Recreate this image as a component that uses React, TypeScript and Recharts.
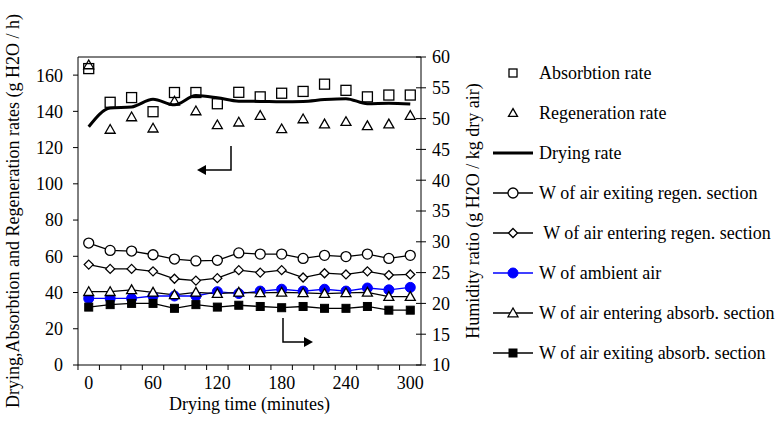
import React from 'react';
import { ComposedChart, Line, XAxis, YAxis, ReferenceLine, Legend, Label } from 'recharts';

// drying time (min)
const minutes = [0, 20, 40, 60, 80, 100, 120, 140, 160, 180, 200, 220, 240, 260, 280, 300];

// left axis, g H2O / h
const absorptionRate = [163.6, 145, 147.6, 139.8, 150.4, 150.4, 144.2, 150.5, 148, 150, 151, 155, 151.6, 148, 149, 149];
const regenerationRate = [165.6, 130, 136.9, 130.7, 145.6, 140.2, 132.5, 134, 137.7, 130.3, 135.8, 133, 134.3, 132, 133, 137.7];
const dryingRate = [131.5, 141.8, 142.4, 146.7, 143.6, 148.7, 147.5, 145.6, 145.5, 145.3, 145.5, 146.5, 147, 144.2, 144.5, 144];

// right axis, g H2O / kg dry air
const wExitRegen = [29.8, 28.6, 28.5, 27.9, 27.2, 26.9, 27.0, 28.2, 28.0, 28.0, 27.3, 27.8, 27.6, 28.0, 27.3, 27.8];
const wEnterRegen = [26.3, 25.6, 25.6, 25.2, 24.0, 23.7, 24.1, 25.4, 25.0, 25.4, 24.2, 24.9, 24.7, 25.2, 24.6, 24.7];
const wAmbient = [20.8, 20.8, 20.8, 21.2, 21.2, 21.2, 21.9, 21.6, 22.0, 22.3, 22.0, 22.3, 22.0, 22.5, 22.2, 22.6];
const wEnterAbsorb = [21.9, 21.9, 22.2, 21.8, 21.4, 21.8, 21.6, 21.8, 21.7, 21.8, 21.7, 21.6, 21.7, 21.8, 21.1, 21.1];
const wExitAbsorb = [19.4, 19.8, 20.0, 20.0, 19.2, 19.8, 19.4, 19.7, 19.5, 19.3, 19.5, 19.2, 19.2, 19.5, 18.9, 18.9];

const leftTicks = [0, 20, 40, 60, 80, 100, 120, 140, 160];
const rightTicks = [10, 15, 20, 25, 30, 35, 40, 45, 50, 55, 60];
const xLabelEvery = 60;

const data = minutes.map((t, i) => ({
  t,
  absorb: absorptionRate[i],
  regen: regenerationRate[i],
  drying: dryingRate[i],
  exitRegen: wExitRegen[i],
  enterRegen: wEnterRegen[i],
  ambient: wAmbient[i],
  enterAbsorb: wEnterAbsorb[i],
  exitAbsorb: wExitAbsorb[i],
}));

const FONT = '"Liberation Serif", "DejaVu Serif", serif';
const FS = 18;
const BLUE = '#0000ff';

// half a category step in px (plot is 343px wide for 320 min)
const HALF = 10.73;
const TS = 5;
const TM = 6;

type Mark = 'square' | 'triangle' | 'diamond' | 'circle' | 'filledSquare' | 'blueDot' | 'none';

function Marker({ cx, cy, mark, size = 9, fill }: { cx: number; cy: number; mark: Mark; size?: number; fill?: string }) {
  const h = size / 2;
  if (mark === 'square') return <rect x={cx - h} y={cy - h} width={size} height={size} fill={fill ?? 'none'} stroke="#000" strokeWidth={1.3} />;
  if (mark === 'filledSquare') return <rect x={cx - h} y={cy - h} width={size} height={size} fill="#000" stroke="#000" />;
  if (mark === 'triangle')
    return (
      <polygon
        points={`${cx},${cy - size * 0.55} ${cx - h - 0.5},${cy + size * 0.42} ${cx + h + 0.5},${cy + size * 0.42}`}
        fill={fill ?? 'none'}
        stroke="#000"
        strokeWidth={1.3}
      />
    );
  if (mark === 'diamond')
    return <polygon points={`${cx},${cy - h - 0.5} ${cx + h + 0.5},${cy} ${cx},${cy + h + 0.5} ${cx - h - 0.5},${cy}`} fill="#fff" stroke="#000" strokeWidth={1.3} />;
  if (mark === 'circle') return <circle cx={cx} cy={cy} r={h + 0.5} fill="#fff" stroke="#000" strokeWidth={1.3} />;
  if (mark === 'blueDot') return <circle cx={cx} cy={cy} r={h + 0.5} fill={BLUE} stroke={BLUE} />;
  return null;
}

const dotOf = (mark: Mark, size: number, fill?: string) => (p: any) => (
  <Marker key={`${mark}-${p.index}`} cx={p.cx} cy={p.cy} mark={mark} size={size} fill={fill} />
);

const legendItems: { name: string; mark: Mark; line: string | null; width?: number; size: number }[] = [
  { name: 'Absorbtion rate', mark: 'square', line: null, size: 8 },
  { name: 'Regeneration rate', mark: 'triangle', line: null, size: 8 },
  { name: 'Drying rate', mark: 'none', line: '#000', width: 3, size: 0 },
  { name: 'W of air exiting regen. section', mark: 'circle', line: '#000', size: 9 },
  { name: ' W of air entering regen. section', mark: 'diamond', line: '#000', size: 8 },
  { name: 'W of ambient air', mark: 'blueDot', line: BLUE, size: 9 },
  { name: 'W of air entering absorb. section', mark: 'triangle', line: '#000', size: 9, },
  { name: 'W of air exiting absorb. section', mark: 'filledSquare', line: '#000', size: 8 },
];

function renderLegend() {
  return (
    <div style={{ fontFamily: FONT, fontSize: FS, color: '#000' }}>
      {legendItems.map((it) => (
        <div key={it.name} style={{ height: 40, display: 'flex', alignItems: 'center' }}>
          <svg width={40} height={20} style={{ flex: 'none' }}>
            {it.line && <line x1={0} x2={40} y1={10} y2={10} stroke={it.line} strokeWidth={it.width ?? 1.3} />}
            <Marker cx={20} cy={10} mark={it.mark} size={it.size} fill={it.mark === 'triangle' && it.line ? '#fff' : undefined} />
          </svg>
          <span style={{ marginLeft: 6, whiteSpace: 'pre' }}>{it.name}</span>
        </div>
      ))}
    </div>
  );
}

function XTick({ x, y, payload }: any) {
  const v = payload.value;
  return (
    <g>
      <line x1={x - HALF} x2={x - HALF} y1={y - TM - TS} y2={y - TM} stroke="#000" />
      {v % xLabelEvery === 0 && (
        <text x={x} y={y} dy="0.71em" textAnchor="middle" fontFamily={FONT} fontSize={FS} fill="#000">
          {v}
        </text>
      )}
    </g>
  );
}

function RightTick({ x, y, payload }: any) {
  return (
    <g>
      <line x1={x - TM - TS - 5} x2={x - TM} y1={y} y2={y} stroke="#000" />
      <text x={x} y={y} dy="0.355em" textAnchor="start" fontFamily={FONT} fontSize={FS} fill="#000">
        {payload.value}
      </text>
    </g>
  );
}

export default function App() {
  return (
    <div style={{ position: 'absolute', left: 0, top: 0, width: 782, height: 428, background: '#fff' }}>
      <ComposedChart width={782} height={428} data={data} margin={{ top: 57, right: 301, bottom: 18, left: 0 }}>
        <XAxis
          dataKey="t"
          type="number"
          domain={[-10, 310]}
          ticks={minutes}
          interval={0}
          tick={<XTick />}
          tickLine={false}
          tickSize={TS}
          tickMargin={TM}
          axisLine={{ stroke: '#000' }}
          height={45}
        >
          <Label value="Drying time (minutes)" position="insideBottom" offset={0} style={{ fontFamily: FONT, fontSize: FS, fill: '#000' }} />
        </XAxis>
        <YAxis
          yAxisId="rate"
          domain={[0, 170]}
          ticks={leftTicks}
          interval={0}
          width={78}
          tickSize={TS}
          tickMargin={10}
          tick={{ fill: '#000', fontFamily: FONT, fontSize: FS }}
          tickLine={{ stroke: '#000' }}
          axisLine={{ stroke: '#000' }}
        >
          <Label
            value="Drying,Absorbtion and Regeneration rates  (g H2O / h)"
            angle={-90}
            position="insideLeft"
            offset={13}
            style={{ fontFamily: FONT, fontSize: FS, fill: '#000', textAnchor: 'middle' }}
          />
        </YAxis>
        <YAxis
          yAxisId="w"
          orientation="right"
          domain={[10, 60]}
          ticks={rightTicks}
          interval={0}
          width={60}
          tickSize={TS}
          tickMargin={TM}
          tick={<RightTick />}
          tickLine={false}
          axisLine={{ stroke: '#000' }}
        >
          <Label
            value="Humidity ratio  (g H2O / kg dry air)"
            angle={-90}
            position="insideLeft"
            offset={52}
            style={{ fontFamily: FONT, fontSize: FS, fill: '#000', textAnchor: 'middle' }}
          />
        </YAxis>
        <ReferenceLine yAxisId="rate" y={170} stroke="#000" />

        <Line yAxisId="rate" dataKey="drying" type="monotone" stroke="#000" strokeWidth={3} dot={false} isAnimationActive={false} />
        <Line yAxisId="rate" dataKey="absorb" stroke="none" dot={dotOf('square', 10)} isAnimationActive={false} />
        <Line yAxisId="rate" dataKey="regen" stroke="none" dot={dotOf('triangle', 9)} isAnimationActive={false} />

        <Line yAxisId="w" dataKey="exitRegen" type="linear" stroke="#000" strokeWidth={1.3} dot={dotOf('circle', 9)} isAnimationActive={false} />
        <Line yAxisId="w" dataKey="enterRegen" type="linear" stroke="#000" strokeWidth={1.3} dot={dotOf('diamond', 8)} isAnimationActive={false} />
        <Line yAxisId="w" dataKey="ambient" type="linear" stroke={BLUE} strokeWidth={1.3} dot={dotOf('blueDot', 9)} isAnimationActive={false} />
        <Line yAxisId="w" dataKey="enterAbsorb" type="linear" stroke="#000" strokeWidth={1.3} dot={dotOf('triangle', 9, '#fff')} isAnimationActive={false} />
        <Line yAxisId="w" dataKey="exitAbsorb" type="linear" stroke="#000" strokeWidth={1.3} dot={dotOf('filledSquare', 8)} isAnimationActive={false} />

        <Legend
          layout="vertical"
          align="center"
          verticalAlign="middle"
          content={renderLegend}
          wrapperStyle={{ left: 493, top: 53, width: 289 }}
        />
      </ComposedChart>
      {/* annotation arrows pointing to the axes */}
      <svg width={782} height={428} style={{ position: 'absolute', left: 0, top: 0, pointerEvents: 'none' }}>
        <path d="M231 146 V170 H205" fill="none" stroke="#000" strokeWidth={1.5} />
        <polygon points="197,170 206,165 206,175" fill="#000" />
        <path d="M283 318 V342 H305" fill="none" stroke="#000" strokeWidth={1.5} />
        <polygon points="313,342 304,337 304,347" fill="#000" />
      </svg>
    </div>
  );
}
